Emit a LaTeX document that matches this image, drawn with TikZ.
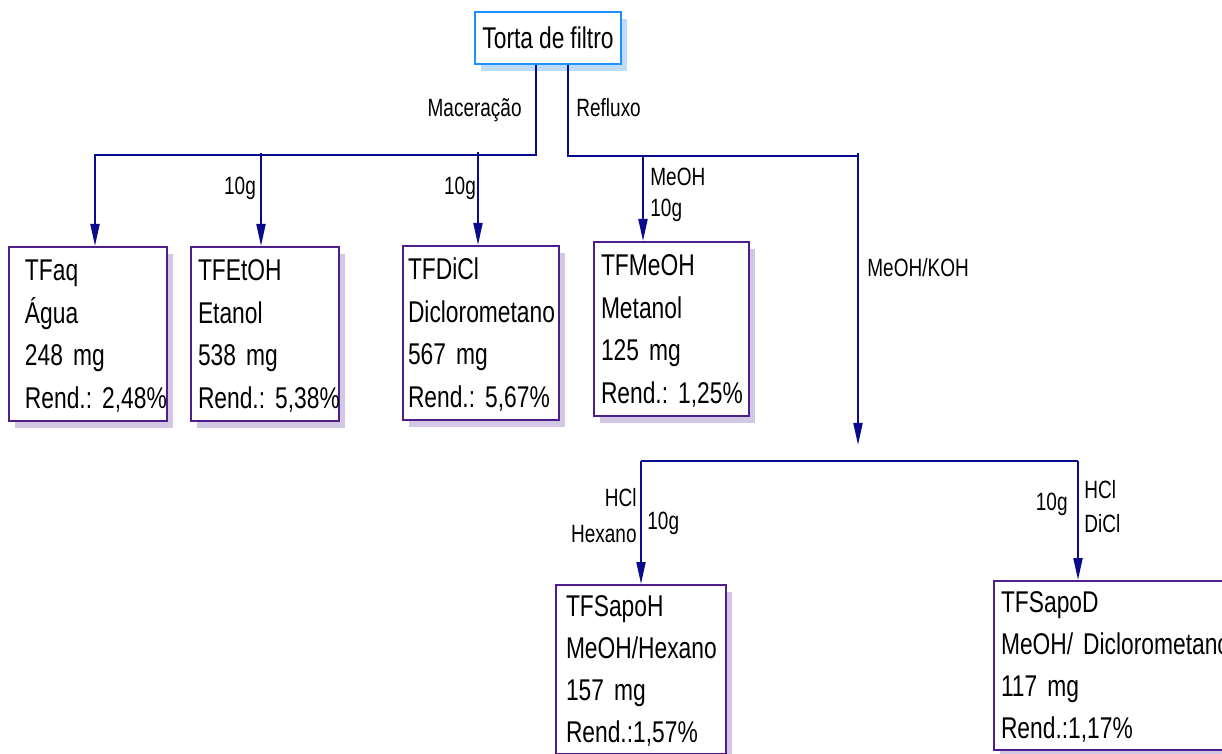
\documentclass[tikz,border=0pt]{standalone}
\usepackage{fontspec}
\setmainfont{Liberation Sans}[FakeStretch=0.76]
\frenchspacing
\usetikzlibrary{arrows.meta,shadows}
\definecolor{linec}{RGB}{10,10,140}
\definecolor{boxc}{RGB}{80,30,140}
\definecolor{shadowc}{RGB}{210,200,228}
\definecolor{topc}{RGB}{30,144,255}
\definecolor{topshadow}{RGB}{190,220,248}
\newcommand{\narrowsp}{\spaceskip=3pt\relax}
\newcommand{\toplines}[4]{\noindent\rule{0pt}{17pt}\mbox{#1}\\\mbox{#2}\\\mbox{#3}\\\mbox{#4}\rule[-6.5pt]{0pt}{6.5pt}}
\newcommand{\botlines}[4]{\noindent\rule{0pt}{15.5pt}\mbox{#1}\\\mbox{#2}\\\mbox{#3}\\\mbox{#4}\rule[-6pt]{0pt}{6pt}}
\tikzset{
  conn/.style={draw=linec, line width=1pt},
  arr/.style={conn, -{Triangle[length=11pt,width=4.5pt]}},
  lbl/.style={font=\fontsize{12.5}{15}\selectfont, inner sep=0pt},
  resbox/.style={draw=boxc, line width=1pt, fill=white, align=left, inner ysep=0pt,
    anchor=north west,
    drop shadow={shadow xshift=3pt, shadow yshift=-3.5pt, fill=shadowc, opacity=1}},
  topres/.style={resbox, font=\fontsize{15}{21.25}\selectfont\narrowsp},
  botres/.style={resbox, font=\fontsize{15}{21}\selectfont\narrowsp},
  sourcebox/.style={draw=topc, line width=1pt, fill=white, font=\fontsize{15}{18}\selectfont\narrowsp,
    minimum width=73pt, minimum height=26pt, inner sep=0pt,
    drop shadow={shadow xshift=3pt, shadow yshift=-3.5pt, fill=topshadow, opacity=1}}
}
\begin{document}
\begin{tikzpicture}[x=0.5pt, y=-0.5pt]
\useasboundingbox (0,0) rectangle (1222,754);

% source
\node[sourcebox] (torta) at (548,38) {Torta de filtro};

% result boxes
\node[topres, inner xsep=8pt, text width=63pt] (aq) at (8,246) {\toplines{TFaq}{Água}{248 mg}{Rend.: 2,48\%}};
\node[topres, inner xsep=3.5pt, text width=67pt] (etoh) at (190,246) {\toplines{TFEtOH}{Etanol}{538 mg}{Rend.: 5,38\%}};
\node[topres, inner xsep=2.5pt, text width=73pt] (dicl) at (402,245) {\toplines{TFDiCl}{Diclorometano}{567 mg}{Rend.: 5,67\%}};
\node[topres, inner xsep=3.5pt, text width=70.5pt] (meoh) at (593,241) {\toplines{TFMeOH}{Metanol}{125 mg}{Rend.: 1,25\%}};
\node[botres, inner xsep=5pt, text width=75pt] (sapoH) at (555,584) {\botlines{TFSapoH}{MeOH/Hexano}{157 mg}{Rend.:1,57\%}};
\node[botres, inner xsep=3.5pt, text width=123pt] (sapoD) at (993,580) {\botlines{TFSapoD}{MeOH/ Diclorometano}{117 mg}{Rend.:1,17\%}};

% junction coordinates
\coordinate (macj) at (536,155);
\coordinate (macL) at (95,155);
\coordinate (t2) at (261,153);
\coordinate (t3) at (478,152);
\coordinate (refj) at (568,156);
\coordinate (refR) at (858,156);
\coordinate (t4) at (643,156);
\coordinate (kohtop) at (858,153);
\coordinate (kohend) at (858,445);
\coordinate (sL) at (641,461);
\coordinate (sR) at (1078,461);

% Maceração branch
\draw[arr] (torta.south -| macj) -- (macj) -- (macL) -- (macL |- aq.north);
\draw[arr] (t2) -- (t2 |- etoh.north);
\draw[arr] (t3) -- (t3 |- dicl.north);

% Refluxo branch
\draw[conn] (torta.south -| refj) -- (refj) -- (refR);
\draw[arr] (t4) -- (t4 |- meoh.north);
\draw[arr] (kohtop) -- (kohend);

% saponification branch
\draw[conn] (sL) -- (sR);
\draw[arr] (sL) -- (sL |- sapoH.north);
\draw[arr] (sR) -- (sR |- sapoD.north);

% labels
\node[lbl, anchor=base east] (lmac) at (522,117) {Maceração};
\node[lbl, anchor=base west] (lref) at (576,117) {Refluxo};
\node[lbl, anchor=base] (l10a) at (240,195) {10g};
\node[lbl, anchor=base] (l10b) at (460,195) {10g};
\node[lbl, anchor=base west] (lmeoh) at (650,186) {MeOH};
\node[lbl, anchor=base west] (l10c) at (650,217) {10g};
\node[lbl, anchor=base west] (lkoh) at (867,277) {MeOH/KOH};
\node[lbl, anchor=base east] (lhcl1) at (637,506) {HCl};
\node[lbl, anchor=base east] (lhex) at (637,542) {Hexano};
\node[lbl, anchor=base west] (l10d) at (647,530) {10g};
\node[lbl, anchor=base east] (l10e) at (1068,510) {10g};
\node[lbl, anchor=base west] (lhcl2) at (1084,498) {HCl};
\node[lbl, anchor=base west] (ldicl) at (1084,532) {DiCl};
\end{tikzpicture}
\end{document}
